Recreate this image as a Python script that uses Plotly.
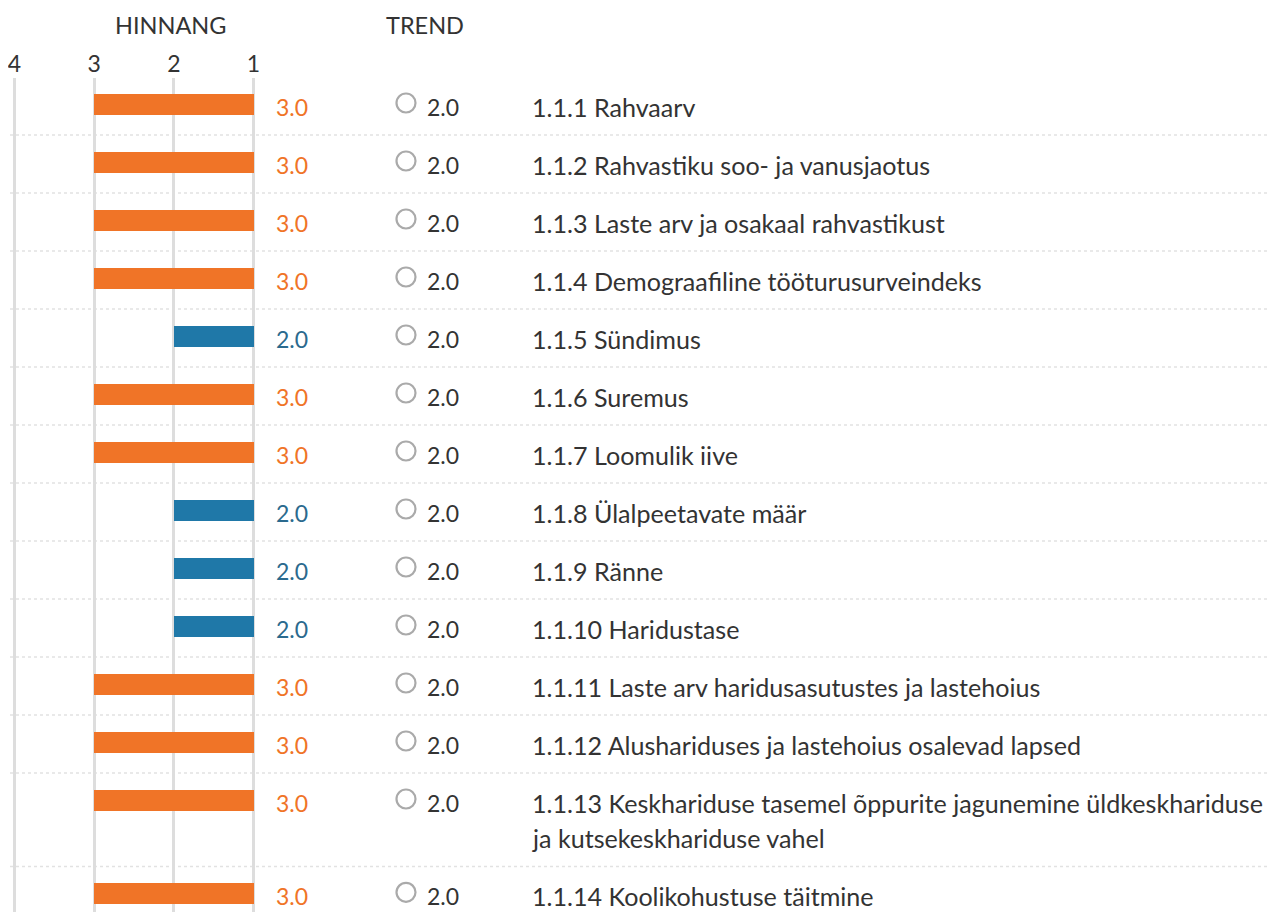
import plotly.graph_objects as go

# ---- data ----
labels = [
    "1.1.1 Rahvaarv",
    "1.1.2 Rahvastiku soo- ja vanusjaotus",
    "1.1.3 Laste arv ja osakaal rahvastikust",
    "1.1.4 Demograafiline tööturusurveindeks",
    "1.1.5 Sündimus",
    "1.1.6 Suremus",
    "1.1.7 Loomulik iive",
    "1.1.8 Ülalpeetavate määr",
    "1.1.9 Ränne",
    "1.1.10 Haridustase",
    "1.1.11 Laste arv haridusasutustes ja lastehoius",
    "1.1.12 Alushariduses ja lastehoius osalevad lapsed",
    "1.1.13 Keskhariduse tasemel õppurite jagunemine üldkeskhariduse\nja kutsekeskhariduse vahel",
    "1.1.14 Koolikohustuse täitmine",
]
scores = [3.0, 3.0, 3.0, 3.0, 2.0, 3.0, 3.0, 2.0, 2.0, 2.0, 3.0, 3.0, 3.0, 3.0]
trends = [2.0, 2.0, 2.0, 2.0, 2.0, 2.0, 2.0, 2.0, 2.0, 2.0, 2.0, 2.0, 2.0, 2.0]
tick_values = [4, 3, 2, 1]
tick_labels = ["4", "3", "2", "1"]
header_score = "HINNANG"
header_trend = "TREND"

# ---- style ----
PAGE_W, PAGE_H = 1275, 920
OFF = 8                      # browser body margin
W, H = PAGE_W - OFF, PAGE_H - 2 * OFF
PAGE_BOTTOM = OFF + H
FONT = "Lato, 'PT Sans', sans-serif"
DARK = "#333333"
ORANGE = "#F07427"
BLUE = "#1F78A8"
BLUE_TXT = "#2B6A8E"
GRID = "#DDDDDD"
TOP_PAGE = 78
TOP = TOP_PAGE - OFF
PLOT_H = H - TOP
ROW_PX = 58.0
ROW0 = 77.0
LINE_STEP = 0.61
BAR_OFF = 0.474
TXT_OFF = 0.035
LABEL_SIZE = 25.1
NUM_SIZE = 23
HEAD_SIZE = 23.5
TXT_PAD = 3


def px(p):
    """page x pixel -> paper fraction"""
    return (p - OFF) / W


bar_color = {3.0: ORANGE, 2.0: BLUE}
txt_color = {3.0: ORANGE, 2.0: BLUE_TXT}

# row layout (row units; one unit = ROW_PX pixels)
tops = []
t = 0.0
for lab in labels:
    tops.append(t)
    n = len(lab.split("\n"))
    t += 1.0 + LINE_STEP * (n - 1)
centers = [tp + BAR_OFF for tp in tops]

y_top = (TOP_PAGE - ROW0) / ROW_PX
y_bot = (PAGE_BOTTOM - ROW0) / ROW_PX

ppu = 79.67
x4_page = 14.5
x_left = 4 + (x4_page - OFF) / ppu
x_right = 4 - (PAGE_W - x4_page) / ppu

fig = go.Figure()

fig.add_trace(go.Bar(
    orientation="h",
    base=[1] * len(scores),
    x=[s - 1 for s in scores],
    y=centers,
    width=21 / ROW_PX,
    marker=dict(color=[bar_color[s] for s in scores], line=dict(width=0)),
    hoverinfo="skip",
    showlegend=False,
))

fig.add_trace(go.Scatter(
    x=[px(406)] * len(trends),
    y=[c - 1.5 / ROW_PX for c in centers],
    xaxis="x2",
    mode="markers",
    marker=dict(symbol="circle-open", size=19, line=dict(width=2.2, color="#AAAAAA"), color="#AAAAAA"),
    hoverinfo="skip",
    showlegend=False,
))

ann = []
for i, lab in enumerate(labels):
    yc = centers[i] + TXT_OFF
    s = scores[i]
    ann.append(dict(x=px(277 - TXT_PAD), xref="paper", y=yc, yref="y", text=f"{s:.1f}",
                    xanchor="left", yanchor="middle", showarrow=False,
                    font=dict(family=FONT, size=NUM_SIZE, color=txt_color[s])))
    ann.append(dict(x=px(428 - TXT_PAD), xref="paper", y=yc, yref="y", text=f"{trends[i]:.1f}",
                    xanchor="left", yanchor="middle", showarrow=False,
                    font=dict(family=FONT, size=NUM_SIZE, color=DARK)))
    for k, line in enumerate(lab.split("\n")):
        ann.append(dict(x=px(533 - TXT_PAD), xref="paper", y=yc + k * LINE_STEP, yref="y", text=line,
                        xanchor="left", yanchor="middle", showarrow=False,
                        font=dict(family=FONT, size=LABEL_SIZE, color=DARK)))

hy = 1 + (TOP - (25 - OFF)) / PLOT_H
ann.append(dict(x=px(170), xref="paper", y=hy, yref="paper", text=header_score,
                xanchor="center", yanchor="middle", showarrow=False,
                font=dict(family=FONT, size=HEAD_SIZE, color=DARK)))
ann.append(dict(x=px(424.5), xref="paper", y=hy, yref="paper", text=header_trend,
                xanchor="center", yanchor="middle", showarrow=False,
                font=dict(family=FONT, size=HEAD_SIZE, color=DARK)))

shapes = []
for tp in tops[1:]:
    shapes.append(dict(type="line", xref="paper", yref="y", x0=px(10), x1=1, y0=tp, y1=tp,
                       line=dict(color="#E2E2E2", width=1.5, dash="dot"), layer="below"))

fig.update_layout(
    width=W, height=H,
    margin=dict(l=0, r=0, t=TOP, b=0, pad=0),
    paper_bgcolor="white", plot_bgcolor="white",
    font=dict(family=FONT, size=NUM_SIZE, color=DARK),
    xaxis=dict(range=[x_left, x_right], side="top", tickmode="array",
               tickvals=tick_values, ticktext=tick_labels,
               tickfont=dict(family=FONT, size=NUM_SIZE, color=DARK),
               ticklabeloverflow="allow",
               showgrid=True, gridcolor=GRID, gridwidth=3,
               zeroline=False, showline=False, ticks="", fixedrange=True),
    xaxis2=dict(range=[0, 1], overlaying="x", visible=False, fixedrange=True),
    yaxis=dict(range=[y_bot, y_top], showgrid=False, zeroline=False,
               showticklabels=False, ticks="", fixedrange=True),
    annotations=ann,
    shapes=shapes,
    bargap=0,
)

fig.write_html("out.html")
